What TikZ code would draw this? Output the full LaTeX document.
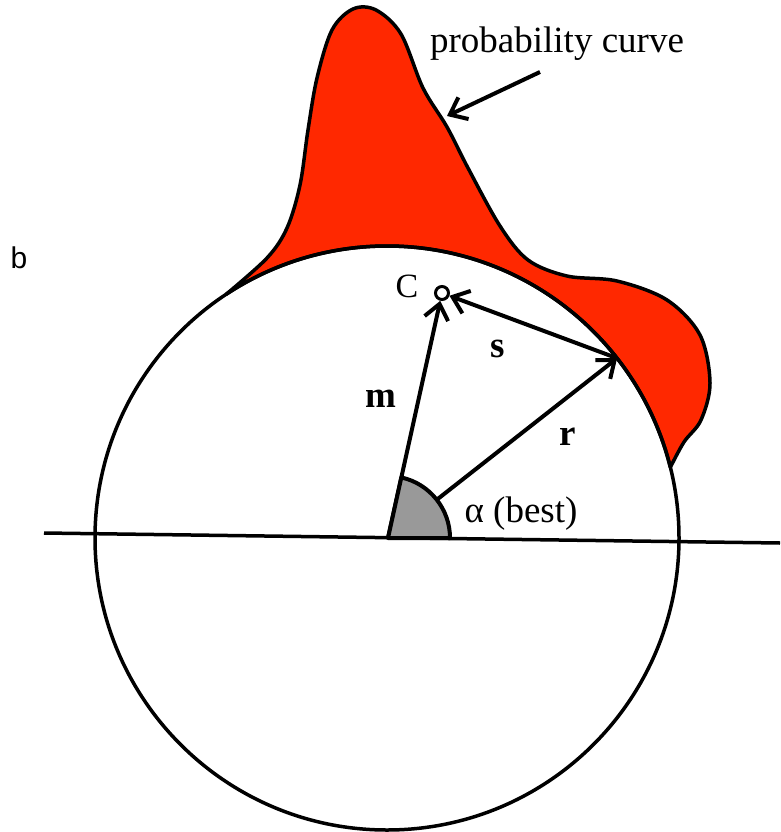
\documentclass[tikz,border=0pt]{standalone}
\usepackage{fontspec}
\setmainfont{Liberation Serif}
\newfontfamily\sanslabel{Liberation Sans}
\usetikzlibrary{arrows.meta}
\definecolor{probred}{RGB}{255,40,0}
\begin{document}
\begin{tikzpicture}[x=1pt,y=-1pt,
  vec/.style={line width=4pt,-{Straight Barb[length=15pt,width=24pt,line width=4pt]}},
  lbl/.style={font=\fontsize{37}{40}\selectfont\bfseries,inner sep=0pt,anchor=base},
  txt/.style={font=\fontsize{37}{42}\selectfont,inner sep=0pt,anchor=base}]
\useasboundingbox (0,0) rectangle (780,832);
% probability curve region
\filldraw[fill=probred,draw=black,line width=3.5pt,line join=round]
  plot[smooth,tension=0.55] coordinates {([shift={(387,538)}]-123.5:292) (267,258) (287,228) (300,185) (308,130) (317,78) (332,30) (353,9) (376,10) (401,34) (423,88) (447,127) (468,168) (500,226) (528,260) (567,276) (617,281) (667,300) (700,335) (710,383) (701,420) (684,442) ([shift={(387,538)}]-14:292)}
  arc[start angle=-14,end angle=-123.5,radius=292];
% circle
\node[circle,draw,line width=3.5pt,minimum size=584pt,inner sep=0pt] (circ) at (387,538) {};
% baseline
\coordinate (L) at (44,533);
\coordinate (Rt) at (780,543);
\coordinate (O) at (388,538);
\draw[line width=3.5pt] (L) -- (Rt);
% points
\coordinate (R) at ([shift={(387,538)}]-38:292);
\node[circle,draw,line width=3pt,fill=white,minimum size=13pt,inner sep=0pt] (C) at (442,293) {};
\draw[vec] (O) -- (C);
\draw[vec] (O) -- (R);
\draw[vec] (R) -- (C);
% shaded angle
\filldraw[fill=black!40,draw=black,line width=4pt,line join=round] (O) -- ++(62,0) arc[start angle=0,end angle=-77.6,radius=62] -- cycle;
% pointer arrow
\coordinate (pa) at (540,72);
\coordinate (pb) at (447,116);
\draw[vec] (pa) -- (pb);
% labels
\node[txt] (pc) at (557,53) {probability curve};
\node[txt] (al) at (521,522) {α (best)};
\node[lbl] (lm) at (381,407) {m};
\node[lbl] (ls) at (498,357) {s};
\node[lbl] (lr) at (568,445) {r};
\node[txt,font=\fontsize{34}{38}\selectfont] (lc) at (407,297) {C};
\node[inner sep=0pt,anchor=base,font=\sanslabel\fontsize{30}{34}\selectfont] (lb) at (19,268) {b};
\end{tikzpicture}
\end{document}
